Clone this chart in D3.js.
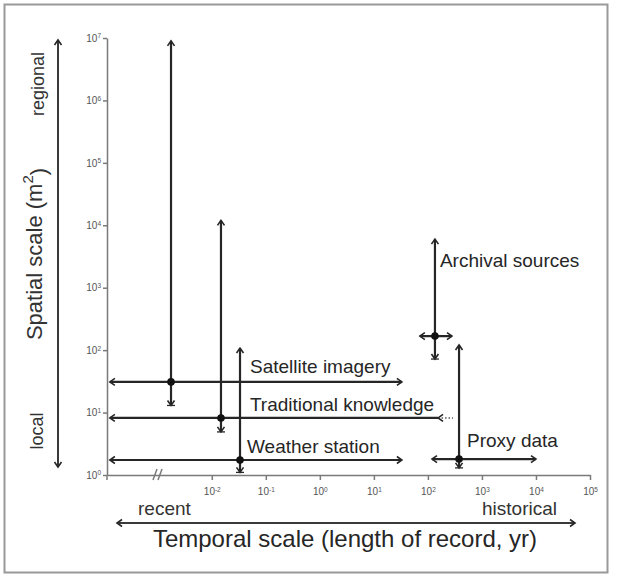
<!DOCTYPE html>
<html>
<head>
<meta charset="utf-8">
<script src="https://cdn.jsdelivr.net/npm/d3@7"></script>
<style>
  body { margin: 0; background: #fff; }
  svg { font-family: "Liberation Sans", Arial, sans-serif; }
</style>
</head>
<body>
<svg id="chart" width="617" height="576"></svg>
<script>
// Data sources
const sources = ["Satellite imagery", "Traditional knowledge", "Weather station", "Archival sources", "Proxy data"];

// length of record (yr): typical, shortest, longest
// (0.00013 is the "recent" end, left of the axis break)
const recordYr  = [0.00176, 0.0148, 0.0333, 135, 377];
const recordMin = [0.00013, 0.00013, 0.00013, 71, 119];
const recordMax = [33, 154, 33, 279, 10000];
// uncertain extension of the record (dotted)
const recordExt = [null, 292, null, null, null];

// spatial scale (m2): typical, smallest, largest
const areaM2  = [31, 8.2, 1.74, 168, 1.8];
const areaMin = [13, 4.9, 1.1, 72, 1.3];
const areaMax = [9e6, 12000, 108, 6000, 121];

const xTickExp = [-2, -1, 0, 1, 2, 3, 4, 5];
const yTickExp = [0, 1, 2, 3, 4, 5, 6, 7];

const ink = "#262626";
const axisInk = "#7a7a7a";

var svg = d3.select("#chart");

// frame
svg.append("rect")
    .attr("x", 4.5).attr("y", 4.5)
    .attr("width", 603).attr("height", 568)
    .attr("fill", "none")
    .attr("stroke", "#999")
    .attr("stroke-width", 2);

// arrow heads
var defs = svg.append("defs");
function makeMarker(id, withBar) {
    var m = defs.append("marker")
        .attr("id", id)
        .attr("viewBox", "-7 -6 9 12")
        .attr("refX", 0).attr("refY", 0)
        .attr("markerWidth", 9).attr("markerHeight", 12)
        .attr("markerUnits", "userSpaceOnUse")
        .attr("orient", "auto-start-reverse");
    m.append("path")
        .attr("d", "M-5,-3.5L0,0L-5,3.5")
        .attr("fill", "none")
        .attr("stroke", ink)
        .attr("stroke-width", 1.6);
    if (withBar) {
        m.append("path")
            .attr("d", "M0,-4L0,4")
            .attr("stroke", ink)
            .attr("stroke-width", 1.3);
    }
}
makeMarker("head", false);
makeMarker("headBar", true);

// scales
var x = d3.scaleLog().domain([1.15e-4, 1e5]).range([107, 590]);
var y = d3.scaleLog().domain([1, 1e7]).range([475, 38]);

function powLabel(sel) {
    sel.each(function(d) {
        var t = d3.select(this);
        var e = Math.round(Math.log10(d));
        t.text(null);
        t.append("tspan").text("10");
        t.append("tspan").attr("dy", "-0.5em").attr("font-size", 6.5).text(e);
    });
}

// y axis
var gy = svg.append("g")
    .attr("transform", "translate(" + x.range()[0] + ",0)")
    .call(d3.axisLeft(y)
        .tickValues(yTickExp.map(e => Math.pow(10, e)))
        .tickSize(4)
        .tickSizeOuter(0)
        .tickPadding(2));
gy.selectAll("text").call(powLabel);

// x axis
var gx = svg.append("g")
    .attr("transform", "translate(0," + y.range()[0] + ")")
    .call(d3.axisBottom(x)
        .tickValues(xTickExp.map(e => Math.pow(10, e)))
        .tickSize(5)
        .tickSizeOuter(0)
        .tickPadding(8));
gx.selectAll("text").call(powLabel);

// origin tick
gx.append("line")
    .attr("x1", x.range()[0]).attr("x2", x.range()[0])
    .attr("y1", 0).attr("y2", 5);

// axis break marks
[153, 158].forEach(function(bx) {
    gx.append("line")
        .attr("x1", bx).attr("y1", 5)
        .attr("x2", bx + 4).attr("y2", -6);
});

[gx, gy].forEach(function(g) {
    g.selectAll("path, line").attr("stroke", axisInk).attr("stroke-width", 1.5);
    g.selectAll("text").attr("fill", "#555").attr("font-size", 10)
        .attr("font-family", "'Liberation Sans', Arial, sans-serif");
});

var plot = svg.append("g");

// vertical extent (spatial)
plot.selectAll(".vbar")
    .data(sources)
    .enter()
    .append("line")
        .attr("class", "vbar")
        .attr("x1", (d, i) => x(recordYr[i]))
        .attr("x2", (d, i) => x(recordYr[i]))
        .attr("y1", (d, i) => y(areaMax[i]))
        .attr("y2", (d, i) => y(areaMin[i]))
        .attr("stroke", ink)
        .attr("stroke-width", 2.2)
        .attr("marker-start", "url(#head)")
        .attr("marker-end", "url(#headBar)");

// horizontal extent (temporal)
plot.selectAll(".hbar")
    .data(sources)
    .enter()
    .append("line")
        .attr("class", "hbar")
        .attr("x1", (d, i) => x(recordMin[i]))
        .attr("x2", (d, i) => x(recordMax[i]))
        .attr("y1", (d, i) => y(areaM2[i]))
        .attr("y2", (d, i) => y(areaM2[i]))
        .attr("stroke", ink)
        .attr("stroke-width", 2.2)
        .attr("marker-start", "url(#head)")
        .attr("marker-end", (d, i) => recordExt[i] ? null : "url(#head)");

// dotted extension, arrow points back onto the line
plot.selectAll(".ext")
    .data(sources.filter((d, i) => recordExt[i]))
    .enter()
    .append("line")
        .attr("class", "ext")
        .attr("x1", d => x(recordMax[sources.indexOf(d)]))
        .attr("x2", d => x(recordExt[sources.indexOf(d)]))
        .attr("y1", d => y(areaM2[sources.indexOf(d)]))
        .attr("y2", d => y(areaM2[sources.indexOf(d)]))
        .attr("stroke", "#555")
        .attr("stroke-width", 1.5)
        .attr("stroke-dasharray", "1.5,2")
        .attr("marker-start", "url(#head)");

// typical values
plot.selectAll(".dot")
    .data(sources)
    .enter()
    .append("circle")
        .attr("class", "dot")
        .attr("cx", (d, i) => x(recordYr[i]))
        .attr("cy", (d, i) => y(areaM2[i]))
        .attr("r", 3.8)
        .attr("fill", "#111");

// label offsets from the typical value (px)
const labelOffset = [[79, -9], [29, -7], [7, -7], [5, -69], [8, -12]];
plot.selectAll(".lbl")
    .data(sources)
    .enter()
    .append("text")
        .attr("class", "lbl")
        .attr("x", (d, i) => x(recordYr[i]) + labelOffset[i][0])
        .attr("y", (d, i) => y(areaM2[i]) + labelOffset[i][1])
        .attr("font-size", 19)
        .attr("fill", ink)
        .text(d => d);

// left hand: spatial arrow and labels
svg.append("line")
    .attr("x1", 58).attr("x2", 58)
    .attr("y1", 40).attr("y2", 467)
    .attr("stroke", "#3a3a3a")
    .attr("stroke-width", 2)
    .attr("marker-start", "url(#head)")
    .attr("marker-end", "url(#head)");

svg.append("text")
    .attr("transform", "translate(44,84) rotate(-90)")
    .attr("text-anchor", "middle")
    .attr("font-size", 18)
    .attr("fill", "#333")
    .text("regional");

svg.append("text")
    .attr("transform", "translate(43,431) rotate(-90)")
    .attr("text-anchor", "middle")
    .attr("font-size", 18)
    .attr("fill", "#333")
    .text("local");

var yTitle = svg.append("text")
    .attr("transform", "translate(42,254) rotate(-90)")
    .attr("text-anchor", "middle")
    .attr("font-size", 22)
    .attr("fill", "#333");
yTitle.append("tspan").text("Spatial scale (m");
yTitle.append("tspan").attr("dy", "-0.6em").attr("font-size", 15).text("2");
yTitle.append("tspan").attr("dy", "0.6em").text(")");

// bottom: temporal arrow and labels
svg.append("line")
    .attr("x1", 117).attr("x2", 575)
    .attr("y1", 523).attr("y2", 523)
    .attr("stroke", "#3a3a3a")
    .attr("stroke-width", 2)
    .attr("marker-start", "url(#head)")
    .attr("marker-end", "url(#head)");

svg.append("text")
    .attr("x", 138).attr("y", 515)
    .attr("font-size", 19)
    .attr("fill", "#333")
    .text("recent");

svg.append("text")
    .attr("x", 557).attr("y", 515)
    .attr("text-anchor", "end")
    .attr("font-size", 19)
    .attr("fill", "#333")
    .text("historical");

svg.append("text")
    .attr("x", 345).attr("y", 547)
    .attr("text-anchor", "middle")
    .attr("font-size", 24)
    .attr("fill", "#262626")
    .text("Temporal scale (length of record, yr)");
</script>
</body>
</html>
